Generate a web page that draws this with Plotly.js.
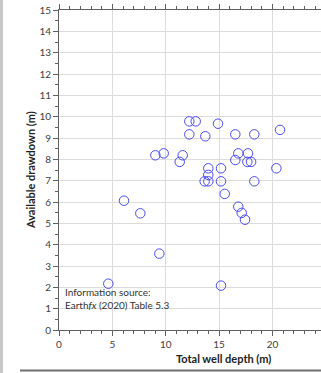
<!DOCTYPE html>
<html>
<head>
<meta charset="utf-8">
<script src="https://cdn.plot.ly/plotly-3.0.1.min.js"></script>
<style>html,body{margin:0;padding:0;background:#fff;overflow:hidden;}</style>
</head>
<body>
<div id="chart" style="width:321px;height:373px;"></div>
<script>
// Total well depth (m)
var wellDepth = [12.21, 12.81, 14.9, 20.71, 12.21, 13.71, 16.52, 18.3,
  9.81, 11.59, 11.31, 16.8, 17.71, 16.52, 17.65, 18.0,
  13.99, 15.18, 20.37, 13.99, 13.65, 13.99, 15.18, 18.3,
  9.03, 15.53, 16.8, 17.12, 17.43, 9.4, 15.18, 6.09, 7.62, 4.62];
// Available drawdown (m)
var drawdown = [9.78, 9.78, 9.67, 9.38, 9.17, 9.08, 9.17, 9.17,
  8.28, 8.19, 7.88, 8.28, 8.28, 7.97, 7.88, 7.88,
  7.58, 7.58, 7.58, 7.27, 6.97, 6.97, 6.97, 6.97,
  8.19, 6.38, 5.78, 5.49, 5.17, 3.58, 2.08, 6.06, 5.47, 2.17];
var xTickVals = [0, 5, 10, 15, 20, 25];
var yTickVals = [0,1,2,3,4,5,6,7,8,9,10,11,12,13,14,15];

var font = 'Lato, "Open Sans", sans-serif';
var trace = {
  x: wellDepth, y: drawdown, type: 'scatter', mode: 'markers',
  marker: {symbol: 'circle-open', size: 9.5, color: 'rgb(75,75,245)', line: {width: 1, color: 'rgb(75,75,245)'}},
  hoverinfo: 'x+y', showlegend: false
};
var layout = {
  width: 321, height: 373,
  margin: {l: 59, r: 0, t: 10, b: 43},
  paper_bgcolor: '#fff', plot_bgcolor: '#fff',
  font: {family: font, size: 10, color: '#404040'},
  xaxis: {
    range: [0, 24.55], tickvals: xTickVals, ticktext: xTickVals.map(String),
    showgrid: true, gridcolor: '#dcdcdc', gridwidth: 1,
    zeroline: false, showline: true, linecolor: '#606060', linewidth: 1,
    ticks: 'outside', ticklen: 5, tickcolor: '#606060', mirror: 'ticks',
    minor: {dtick: 1, ticks: 'outside', ticklen: 3, tickcolor: '#606060', showgrid: false},
    tickfont: {size: 10, color: '#404040'}
  },
  yaxis: {
    range: [0, 15], tickvals: yTickVals, ticktext: yTickVals.map(String),
    showgrid: true, gridcolor: '#dcdcdc', gridwidth: 1,
    zeroline: false, showline: true, linecolor: '#606060', linewidth: 1,
    ticks: 'outside', ticklen: 5, tickcolor: '#606060',
    minor: {dtick: 0.5, ticks: 'outside', ticklen: 3, tickcolor: '#606060', showgrid: false},
    tickfont: {size: 10, color: '#404040'}
  },
  annotations: [
    {xref: 'x', yref: 'paper', x: 15.46, y: -0.0875, yanchor: 'middle', xanchor: 'center', showarrow: false,
     text: '<b>Total well depth (m)</b>', font: {size: 11, color: '#222'}},
    {xref: 'paper', yref: 'paper', x: -0.1107, y: 0.5, yanchor: 'middle', xanchor: 'center', showarrow: false,
     textangle: -90, text: '<b>Available drawdown (m)</b>', font: {size: 11, color: '#222'}},
    {xref: 'paper', yref: 'paper', x: 0.015, y: 0.1, xanchor: 'left', yanchor: 'middle', showarrow: false, align: 'left',
     text: 'Information source:<br>Earth<i>fx</i> (2020) Table 5.3', font: {size: 10, color: '#333'}}
  ],
  shapes: [
    {type: 'rect', xref: 'paper', yref: 'paper', x0: -0.2252, x1: -0.2137, y0: -0.14, y1: 1.04,
     fillcolor: '#c8c8c8', line: {width: 0}, layer: 'above'},
    {type: 'line', xref: 'paper', yref: 'paper', x0: -0.149, x1: 1.0, y0: -0.1266, y1: -0.1266,
     line: {color: '#707070', width: 2}}
  ]
};
Plotly.newPlot('chart', [trace], layout, {displayModeBar: false, staticPlot: true});
</script>
</body>
</html>
